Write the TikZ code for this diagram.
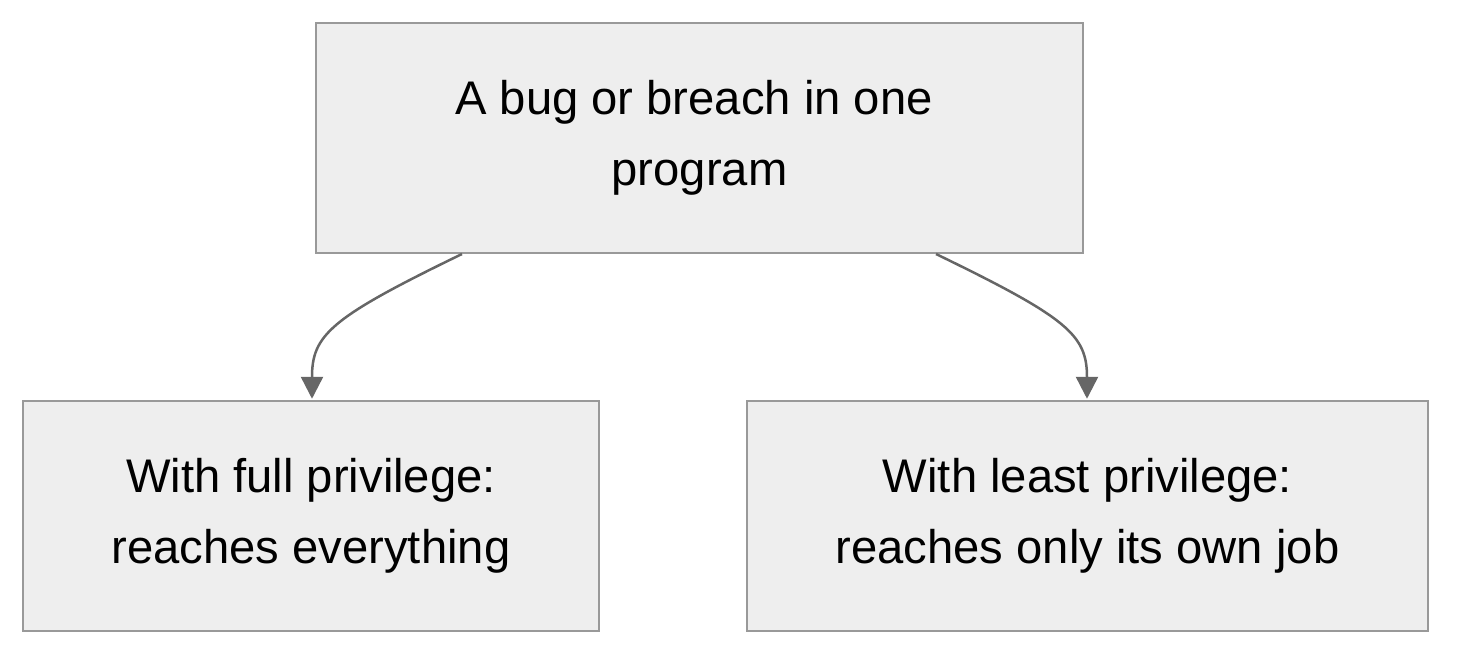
\documentclass[tikz,border=0pt]{standalone}
\usepackage{fontspec}
\setmainfont{Liberation Sans}
\usetikzlibrary{arrows.meta}
\definecolor{boxfill}{HTML}{EEEEEE}
\definecolor{boxdraw}{HTML}{999999}
\definecolor{linecol}{HTML}{666666}
\begin{document}
\begin{tikzpicture}[x=1pt,y=-1pt,
  box/.style={draw=boxdraw,fill=boxfill,line width=2.5pt,align=center,inner sep=0pt,
    font=\fontsize{47.2}{71}\selectfont},
  conn/.style={draw=linecol,line width=2.5pt,-{Triangle[length=22pt,width=22pt]}}]
\useasboundingbox (0,0) rectangle (1476,666);
\node[box,minimum width=767pt,minimum height=230pt] (top) at (699.5,138) {A bug or breach in one\hspace*{11pt}\\program};
\node[box,minimum width=576pt,minimum height=230pt] (left) at (311,516) {With full privilege:\\reaches everything};
\node[box,minimum width=681pt,minimum height=230pt] (right) at (1087.5,516) {With least privilege:\\reaches only its own job};
\coordinate (a1) at (462,254);
\coordinate (a2) at (936,254);
\draw[conn] (a1) .. controls (330,318) and (312,335) .. ([yshift=1pt]left.north -| 312,0);
\draw[conn] (a2) .. controls (1068,318) and (1087,335) .. ([yshift=1pt]right.north -| 1087,0);
\end{tikzpicture}
\end{document}
